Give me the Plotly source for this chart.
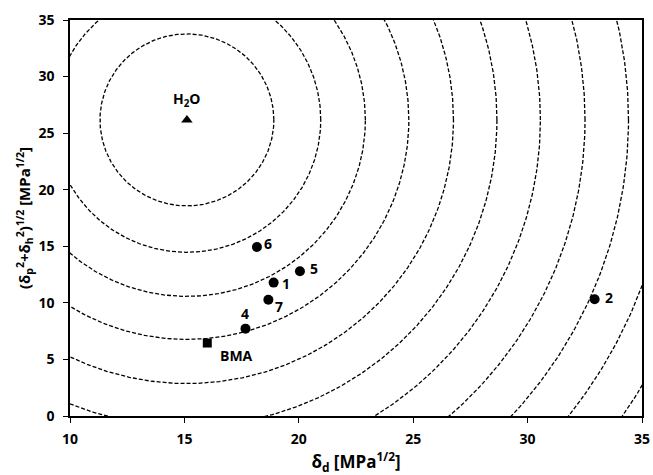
import numpy as np
import plotly.graph_objects as go

# Data
point_names = ["1", "2", "4", "5", "6", "7"]
point_dd = [18.90, 32.93, 17.67, 20.05, 18.17, 18.67]
point_dph = [11.79, 10.32, 7.72, 12.79, 14.94, 10.28]

bma_name = "BMA"
bma_dd = [16.0]
bma_dph = [6.45]

water_name = "H<sub>2</sub>O"
water_dd = [15.11]
water_dph = [26.17]

# Hansen distance contour levels Ra = sqrt(4*Δδd^2 + Δ(δph)^2) around water
contour_levels = [7.6, 11.7, 15.6, 19.4, 23.3, 27.1, 30.9, 34.8, 38.6, 42.4, 46.2]

x_ticks = [10, 15, 20, 25, 30, 35]
y_ticks = [0, 5, 10, 15, 20, 25, 30, 35]

FONT = "'Open Sans', sans-serif"
BOLD = dict(family=FONT, color="black", weight="bold")

fig = go.Figure()

t = np.linspace(0, 2 * np.pi, 721)
for r in contour_levels:
    fig.add_trace(go.Scatter(
        x=water_dd[0] + (r / 2.0) * np.cos(t),
        y=water_dph[0] + r * np.sin(t),
        mode="lines",
        line=dict(color="black", width=1.3, dash="4px,2px"),
        hoverinfo="skip", showlegend=False,
    ))

fig.add_trace(go.Scatter(
    x=point_dd, y=point_dph, mode="markers",
    marker=dict(symbol="circle", size=10, color="black"),
    showlegend=False,
))
fig.add_trace(go.Scatter(
    x=bma_dd, y=bma_dph, mode="markers",
    marker=dict(symbol="square", size=9, color="black"),
    showlegend=False,
))
fig.add_trace(go.Scatter(
    x=water_dd, y=water_dph, mode="markers",
    marker=dict(symbol="triangle-up", size=10, color="black"),
    showlegend=False,
))

# label offsets (pixels)
offsets = {"1": (12, -1), "2": (14, 2), "4": (0, 15), "5": (14, 3), "6": (11, 3), "7": (11, -7)}
for name, xv, yv in zip(point_names, point_dd, point_dph):
    dx, dy = offsets[name]
    fig.add_annotation(x=xv, y=yv, text=name, showarrow=False,
                       xshift=dx, yshift=dy, font=dict(size=14, **BOLD))
fig.add_annotation(x=bma_dd[0], y=bma_dph[0], text=bma_name, showarrow=False,
                   xshift=29, yshift=-12, font=dict(size=14, **BOLD))
fig.add_annotation(x=water_dd[0], y=water_dph[0], text=water_name, showarrow=False,
                   xshift=0, yshift=20, font=dict(size=14, **BOLD))

axis_common = dict(
    showgrid=False, zeroline=False, showline=True, linecolor="black", linewidth=1.5,
    mirror=True, ticks="outside", ticklen=5, tickcolor="black", tickwidth=1.2,
    tickfont=dict(size=14, **BOLD), automargin=False,
)

fig.update_layout(
    width=653, height=475,
    margin=dict(l=70, r=11, t=20, b=59),
    paper_bgcolor="white", plot_bgcolor="white",
    xaxis=dict(range=[10, 35], tickvals=x_ticks, ticklabelstandoff=4,
               title=dict(text="δ<sub>d</sub> [MPa<sup>1/2</sup>]", font=dict(size=17, **BOLD), standoff=10),
               **axis_common),
    yaxis=dict(range=[0, 35], tickvals=y_ticks, ticklabelstandoff=6,
               title=dict(text="(δ<sub>p</sub><sup>2</sup>+δ<sub>h</sub><sup>2</sup>)<sup>1/2</sup> [MPa<sup>1/2</sup>]",
                          font=dict(size=15, **BOLD), standoff=4),
               **axis_common),
)

fig.write_html("out.html", post_script="document.body.style.margin='0';",
               config={"displayModeBar": False})
